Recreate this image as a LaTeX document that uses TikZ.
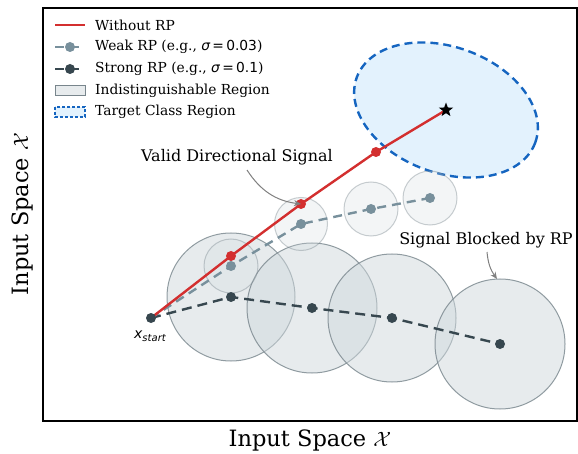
\documentclass[tikz,border=0pt]{standalone}
\usepackage{fontspec}
\setmainfont{DejaVu Serif}
\newfontfamily\dvs{DejaVu Sans}
\usetikzlibrary{shapes.geometric,arrows.meta}
\definecolor{cred}{HTML}{D32F2F}
\definecolor{cweak}{HTML}{78909C}
\definecolor{cstrong}{HTML}{37474F}
\definecolor{cfill}{HTML}{CFD8DC}
\definecolor{cedge}{HTML}{78858C}
\definecolor{tfill}{HTML}{E3F2FD}
\definecolor{tedge}{HTML}{1565C0}
\tikzset{
  bigball/.style={circle, draw=cedge, line width=1pt, fill=cfill, fill opacity=0.5, draw opacity=0.8, inner sep=0pt},
  smallball/.style={circle, draw=cedge, line width=1pt, fill=cfill, fill opacity=0.25, draw opacity=0.4, inner sep=0pt},
  redline/.style={draw=cred, line width=2.4pt},
  weakline/.style={draw=cweak, line width=2.4pt, dash pattern=on 9pt off 6pt},
  strongline/.style={draw=cstrong, line width=2.4pt, dash pattern=on 10pt off 6pt},
  reddot/.style={circle, fill=cred, inner sep=0pt, minimum size=10pt},
  weakdot/.style={circle, fill=cweak, inner sep=0pt, minimum size=10pt},
  strongdot/.style={circle, fill=cstrong, inner sep=0pt, minimum size=10pt},
  legtext/.style={anchor=west, font=\fontsize{13.8}{16}\selectfont, inner sep=0pt},
  annot/.style={font=\fontsize{16}{19}\selectfont, inner sep=1pt},
  annarrow/.style={draw=gray, line width=1pt, -{Stealth[length=7pt,width=6pt]}},
}
\begin{document}
\begin{tikzpicture}[x=1pt,y=-1pt]
\useasboundingbox (0,0) rectangle (578,454);
% target region
\draw[tedge, fill=tfill, line width=2.4pt, dash pattern=on 8pt off 5pt] (446,110) ellipse [x radius=95, y radius=63, rotate=-20];
% indistinguishable regions (strong)
\node[bigball, minimum size=128pt] (B1) at (231,297) {};
\node[bigball, minimum size=130pt] (B2) at (312,308) {};
\node[bigball, minimum size=128pt] (B3) at (392,318) {};
\node[bigball, minimum size=130pt] (B4) at (500,344) {};
% weak regions
\node[smallball, minimum size=54pt] (W1c) at (231,266) {};
\node[smallball, minimum size=53pt] (W2c) at (301,224) {};
\node[smallball, minimum size=54pt] (W3c) at (371,209) {};
\node[smallball, minimum size=54pt] (W4c) at (430,198) {};
% points
\coordinate (S) at (151,318);
\coordinate (R1) at (231,256);
\coordinate (R2) at (301,204);
\coordinate (R3) at (376,152);
\coordinate (T) at (446,110);
\coordinate (W1) at (231,266);
\coordinate (W2) at (301,224);
\coordinate (W3) at (371,209);
\coordinate (W4) at (430,198);
\coordinate (D1) at (231,297);
\coordinate (D2) at (312,308);
\coordinate (D3) at (392,318);
\coordinate (D4) at (500,344);
% strong path
\draw[strongline] (S) -- (D1) -- (D2) -- (D3) -- (D4);
% weak path
\draw[weakline] (S) -- (W1) -- (W2) -- (W3) -- (W4);
% red path
\draw[redline] (S) -- (R1) -- (R2) -- (R3) -- (T);
\foreach \p in {W1,W2,W3,W4} \node[weakdot] at (\p) {};
\foreach \p in {D1,D2,D3,D4} \node[strongdot] at (\p) {};
\node[strongdot] (Sdot) at (S) {};
\foreach \p in {R1,R2,R3} \node[reddot] at (\p) {};
\node[star, star points=5, star point ratio=2.4, fill=black, inner sep=0pt, minimum size=15pt] (star) at (T) {};
\node[font=\dvs\itshape\fontsize{14}{16}\selectfont, inner sep=0pt] (xs) at (150,336) {x\raisebox{-0.4ex}{\fontsize{10}{11}\selectfont start}};
% annotations
\node[annot] (va) at (237,157) {Valid Directional Signal};
\draw[annarrow] (247,170) to[bend right=25] (R2);
\node[annot] (sb) at (486,240) {Signal Blocked by RP};
\draw[annarrow] (487,252) to[bend right=15] (497,279);
% axes
\draw[black, line width=1.4pt] (43,8) rectangle (577,421);
\node[font=\fontsize{22.5}{25}\selectfont] (xl) at (310,440) {Input Space $\mathcal{X}$};
\node[font=\fontsize{22.5}{25}\selectfont, rotate=90] (yl) at (22,214) {Input Space $\mathcal{X}$};
% legend
\draw[cred, line width=2.4pt] (55,25) -- (85,25);
\node[legtext] at (95,25) {Without RP};
\draw[cweak, line width=2.4pt, dash pattern=on 9pt off 6pt] (55,47) -- (85,47);
\node[weakdot] at (70,47) {};
\node[legtext] at (95,47) {Weak RP (e.g., {\dvs\itshape σ}\,{\dvs=}\,{\dvs 0.03})};
\draw[cstrong, line width=2.4pt, dash pattern=on 9pt off 6pt] (55,69) -- (85,69);
\node[strongdot] at (70,69) {};
\node[legtext] at (95,69) {Strong RP (e.g., {\dvs\itshape σ}\,{\dvs=}\,{\dvs 0.1})};
\draw[cedge, fill=cfill, fill opacity=0.5, line width=1pt] (55,86) rectangle (85,96);
\node[legtext] at (95,91) {Indistinguishable Region};
\draw[tedge, fill=tfill, line width=1.2pt, dash pattern=on 3pt off 2pt] (55,107) rectangle (85,117);
\node[legtext] at (95,112) {Target Class Region};
\end{tikzpicture}
\end{document}
